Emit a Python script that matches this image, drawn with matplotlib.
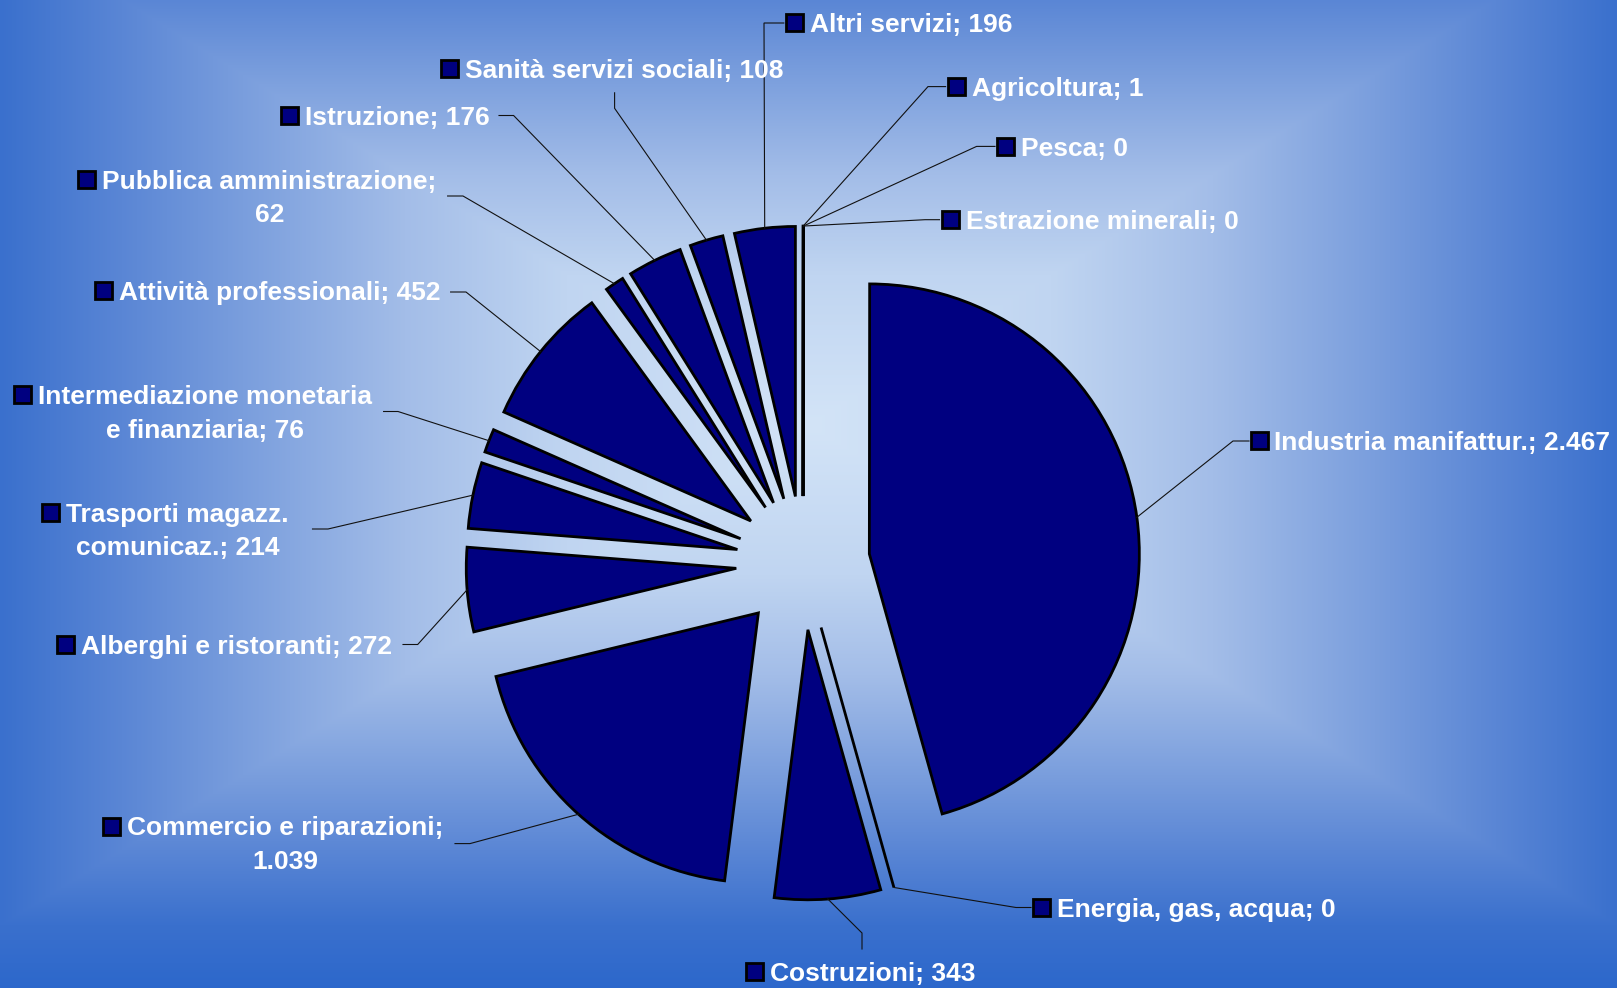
import numpy as np
import matplotlib
matplotlib.use("Agg")
import matplotlib.pyplot as plt
from matplotlib.patches import Rectangle
from matplotlib.colors import to_rgb

# ---------------- data ----------------
categories = ["Agricoltura", "Pesca", "Estrazione minerali", "Industria manifattur.",
              "Energia, gas, acqua", "Costruzioni", "Commercio e riparazioni",
              "Alberghi e ristoranti", "Trasporti magazz. comunicaz.",
              "Intermediazione monetaria e finanziaria", "Attività professionali",
              "Pubblica amministrazione", "Istruzione", "Sanità servizi sociali",
              "Altri servizi"]
values = [1, 0, 0, 2467, 0, 343, 1039, 272, 214, 76, 452, 62, 176, 108, 196]

# ---------------- layout (pixel positions in the 1617x988 image) ----------------
W, H = 1617, 988
CX, CY, RPX = 803.0, 563.0, 270.0          # pie centre and radius in px
EXPLODE = 0.248

breaks = [None, None, None, None, None, None, ";", None, "magazz.", "monetaria",
          None, ";", None, None, None]
# legend-key square centres
key_pos = [(956, 86.6), (1005.5, 146.5), (950, 219.5), (1259, 441), (1041.5, 907.5),
           (754, 971.5), (112, 826), (66, 644.5), (51, 512.5), (23, 395),
           (104, 291), (87, 179.5), (290, 115.5), (450, 69), (794, 23)]
# leader elbow and end points
elbows = [(928, 86.6), (976.6, 146.4), (925, 219.7), (1233, 441), (1016, 907.5),
          (862, 933), (470, 843.6), (417.7, 644.5), (328, 529), (398, 411.5),
          (466, 292), (463, 196), (513.6, 115.5), (614.6, 108.3), (764, 23)]
ends = [(945.6, 86.6), (995, 146.4), (939.5, 219.7), (1249, 441), (1031, 907.5),
        (862, 949), (455, 843.6), (403, 644.5), (312.5, 529), (383.6, 411.5),
        (450.6, 292), (447.6, 196), (499, 115.5), (614.6, 92.8), (783.8, 23)]


def px2d(px, py):
    return (px - CX) / RPX, (CY - py) / RPX


def fmt_it(v):
    return f"{v:,}".replace(",", ".")


fig = plt.figure(figsize=(W / 100, H / 100), dpi=100)

# ---------------- background gradient ----------------
bg = fig.add_axes([0, 0, 1, 1], zorder=0)
yy, xx = np.mgrid[0:H, 0:W]
t = np.maximum(np.abs(xx - 808) / 808.0, np.abs(yy - 425) / 500.0)
stops = [0.0, 0.3, 0.5, 0.7, 0.85, 1.0, 1.15]
cols = [to_rgb(c) for c in ["#d3e4f7", "#c0d5f1", "#a3bde8", "#7a9edd",
                            "#5a86d5", "#3a70cd", "#2a66cb"]]
img = np.zeros((H, W, 3))
for k in range(3):
    img[..., k] = np.interp(t, stops, [c[k] for c in cols])
bg.imshow(img, extent=(0, 1, 0, 1), aspect="auto", interpolation="bilinear")
bg.axis("off")

# ---------------- pie ----------------
ax = fig.add_axes([0, 0, 1, 1], zorder=1)
ax.patch.set_alpha(0)
wedges, _ = ax.pie(values, explode=[EXPLODE] * len(values), startangle=90,
                   counterclock=False, colors=["#000080"] * len(values),
                   radius=1.0,
                   wedgeprops=dict(edgecolor="black", linewidth=2.0, joinstyle="miter"))
ax.set_xlim(-CX / RPX, (W - CX) / RPX)
ax.set_ylim(-(H - CY) / RPX, CY / RPX)
ax.axis("off")

fig.canvas.draw()
renderer = fig.canvas.get_renderer()

FS = 19
CAP_HALF = 0.716 * FS * 100 / 72 / 2.0
LINE_GAP = 33.5
KEY = 17.0

for i, (cat, v) in enumerate(zip(categories, values)):
    label = f"{cat}; {fmt_it(v)}"
    b = breaks[i]
    if b is not None:
        label = label.replace(b + " ", b + "\n", 1)
    lines = label.split("\n")

    # leader line from outer arc at mid angle
    w = wedges[i]
    mid = np.deg2rad((w.theta1 + w.theta2) / 2.0)
    sx0 = w.center[0] + w.r * np.cos(mid)
    sy0 = w.center[1] + w.r * np.sin(mid)
    ex, ey = px2d(*elbows[i])
    nx, ny = px2d(*ends[i])
    ax.plot([sx0, ex, nx], [sy0, ey, ny], color="#111111", lw=0.8,
            solid_joinstyle="miter", zorder=3)

    # legend key
    kx, ky = key_pos[i]
    x0, y0 = px2d(kx - KEY / 2, ky + KEY / 2)
    ax.add_patch(Rectangle((x0, y0), KEY / RPX, KEY / RPX, facecolor="#000080",
                           edgecolor="black", lw=2.0, zorder=4))

    # text
    tx, tyb = px2d(kx + 15.5, ky + CAP_HALF)
    t1 = ax.text(tx, tyb, lines[0], color="white", fontsize=FS, fontweight="bold",
                 family=["Liberation Sans", "DejaVu Sans"], ha="left", va="baseline",
                 zorder=5)
    if len(lines) > 1:
        bb = t1.get_window_extent(renderer)
        cxd = (bb.x0 + bb.x1) / 2.0
        cxdata = ax.transData.inverted().transform((cxd, 0))[0]
        for j, ln in enumerate(lines[1:], start=1):
            _, ty2 = px2d(0, ky + CAP_HALF + LINE_GAP * j)
            ax.text(cxdata, ty2, ln, color="white", fontsize=FS, fontweight="bold",
                    family=["Liberation Sans", "DejaVu Sans"], ha="center",
                    va="baseline", zorder=5)

fig.savefig("out.png", dpi=100)
